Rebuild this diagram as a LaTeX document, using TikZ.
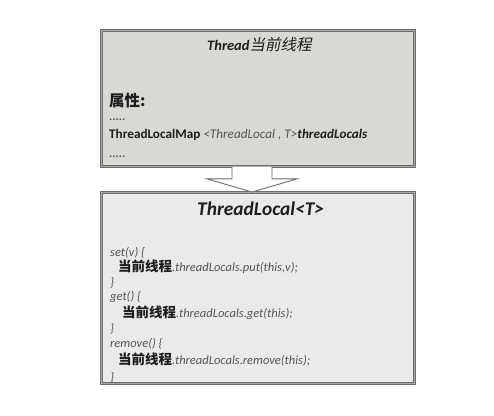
\documentclass[tikz,border=0pt]{standalone}
\usepackage{fontspec}
\setmainfont{Carlito}
\newfontfamily\cjk{Noto Sans CJK SC}
\newfontfamily\cjksl[FakeSlant=0.2]{Noto Sans CJK SC}
\usetikzlibrary{calc}
\definecolor{FrameGray}{HTML}{6E6E6E}
\definecolor{FrameLight}{HTML}{A8A8A8}
\definecolor{ThreadFill}{HTML}{D9D8D5}
\definecolor{LocalFill}{HTML}{EBEAE8}
\definecolor{CodeGray}{HTML}{555555}
\definecolor{InkDark}{HTML}{1E1E1E}
\newcommand\hanbold[1]{{\cjk\color{InkDark}\fontsize{13.5}{15}\selectfont\bfseries #1}}

\begin{document}
\begin{tikzpicture}[x=1pt, y=-1pt,
  panel/.style={draw=FrameGray, double=FrameLight, double distance=1pt, line width=0.9pt, minimum width=313pt, anchor=north west, inner sep=0pt},
  txt/.style={anchor=base west, inner sep=0pt, text=InkDark},
  code/.style={anchor=base west, inner sep=0pt, text=CodeGray, font=\fontsize{12.5}{15}\selectfont\itshape},
  blockarrow/.style={draw=FrameGray, fill=white, line width=0.9pt, line join=miter}
]
\useasboundingbox (0,0) rectangle (494,415);

% the two boxes
\node[panel, fill=ThreadFill, minimum height=136pt] (thread) at (101,30) {};
\node[panel, fill=LocalFill, minimum height=191pt] (local) at (101,192) {};

% Thread box text
\node[txt, font=\fontsize{14.5}{17}\selectfont\bfseries\itshape] (threadtitle) at (207,50)
  {Thread{\cjksl\mdseries\fontsize{15.5}{17}\selectfont 当前线程}};
\node[txt, font=\fontsize{15.5}{17}\selectfont\cjk\bfseries] (attr) at (109,106) {属性:};
\node[txt, font=\fontsize{12}{13}\selectfont\bfseries, text=CodeGray] (dots1) at (109,120) {.....};
\node[txt, font=\fontsize{13.2}{15}\selectfont] (mapline) at (109,138)
  {\bfseries ThreadLocalMap \mdseries\itshape\color{CodeGray}<ThreadLocal , T>\color{InkDark}\bfseries threadLocals};
\node[txt, font=\fontsize{12}{13}\selectfont\bfseries, text=CodeGray] (dots2) at (109,157) {.....};

% ThreadLocal box text
\node[txt, font=\fontsize{19.4}{21}\selectfont\bfseries\itshape] (localtitle) at (197,215) {ThreadLocal<T>};
\node[code] (setopen) at (110,256) {set(v) \{};
\node[code] (setbody) at (118,271) {\hanbold{当前线程}.threadLocals.put(this,v);};
\node[code] (setclose) at (110,286) {\}};
\node[code] (getopen) at (110,300) {get() \{};
\node[code] (getbody) at (122,317) {\hanbold{当前线程}.threadLocals.get(this);};
\node[code] (getclose) at (110,332) {\}};
\node[code] (rmopen) at (110,347) {remove() \{};
\node[code] (rmbody) at (118,364) {\hanbold{当前线程}.threadLocals.remove(this);};
\node[code] (rmclose) at (110,381) {\}};

% block arrow between the boxes
\coordinate (tip) at ($(local.north west)+(151,0)$);
\coordinate (neck) at ($(thread.south west)+(131,0)$);
\fill[white] (neck) rectangle ($(neck)+(40,12)$);
\draw[blockarrow] (neck) -- ++(0,12) -- ++(-25,0) -- (tip)
  -- ($(neck)+(65,12)$) -- ++(-25,0) -- ++(0,-12);
\end{tikzpicture}
\end{document}
